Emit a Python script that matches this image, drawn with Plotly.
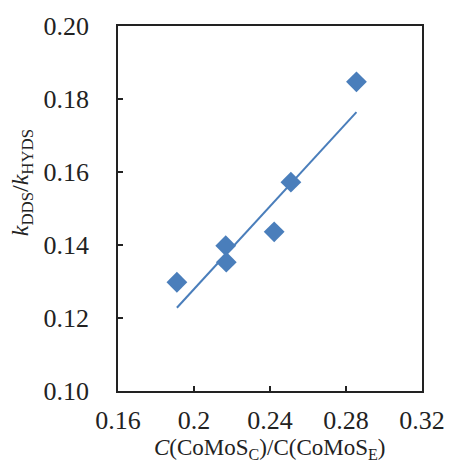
import plotly.graph_objects as go

# Data
x_vals = [0.191, 0.2167, 0.217, 0.2422, 0.251, 0.2855]
y_vals = [0.1298, 0.1398, 0.1353, 0.1436, 0.1572, 0.1847]
trend_x = [0.191, 0.2855]
trend_y = [0.1228, 0.1764]

x_ticks = [0.16, 0.2, 0.24, 0.28, 0.32]
x_ticklabels = ["0.16", "0.2", "0.24", "0.28", "0.32"]
y_ticks = [0.10, 0.12, 0.14, 0.16, 0.18, 0.20]
y_ticklabels = ["0.10", "0.12", "0.14", "0.16", "0.18", "0.20"]

BLUE = "#4a7ebb"
FONT = "Liberation Serif, Times New Roman, serif"
TICKFONT = dict(family=FONT, size=26, color="#222")

fig = go.Figure()
fig.add_trace(go.Scatter(x=trend_x, y=trend_y, mode="lines",
                         line=dict(color=BLUE, width=2), showlegend=False,
                         hoverinfo="skip"))
fig.add_trace(go.Scatter(x=x_vals, y=y_vals, mode="markers",
                         marker=dict(symbol="diamond", size=16, color=BLUE,
                                     line=dict(width=0)),
                         showlegend=False))

fig.update_layout(
    width=457, height=463,
    margin=dict(l=118, r=25, t=18, b=72),
    paper_bgcolor="white", plot_bgcolor="white",
    font=dict(family=FONT, size=26, color="#222"),
    xaxis=dict(range=[0.16, 0.32], tickvals=x_ticks, ticktext=x_ticklabels,
               tickfont=TICKFONT,
               ticks="inside", ticklen=5, tickwidth=1.5, tickcolor="#222",
               showline=True, linecolor="#222", linewidth=1.5, mirror=True,
               showgrid=False, zeroline=False, ticklabelstandoff=5),
    yaxis=dict(range=[0.10, 0.20], tickvals=y_ticks, ticktext=y_ticklabels,
               tickfont=TICKFONT,
               ticks="inside", ticklen=5, tickwidth=1.5, tickcolor="#222",
               showline=True, linecolor="#222", linewidth=1.5, mirror=True,
               showgrid=False, zeroline=False, ticklabelstandoff=22),
    annotations=[
        dict(text="<i>k</i><sub>DDS</sub>/<i>k</i><sub>HYDS</sub>",
             xref="paper", yref="paper", x=-0.315, y=0.57, textangle=-90,
             showarrow=False, xanchor="center", yanchor="middle",
             font=dict(family=FONT, size=24, color="#222")),
        dict(text="<i>C</i>(CoMoS<sub>C</sub>)/C(CoMoS<sub>E</sub>)",
             xref="paper", yref="paper", x=0.5, y=-0.158,
             showarrow=False, xanchor="center", yanchor="middle",
             font=dict(family=FONT, size=23, color="#222")),
    ],
)

fig.write_html("out.html")
